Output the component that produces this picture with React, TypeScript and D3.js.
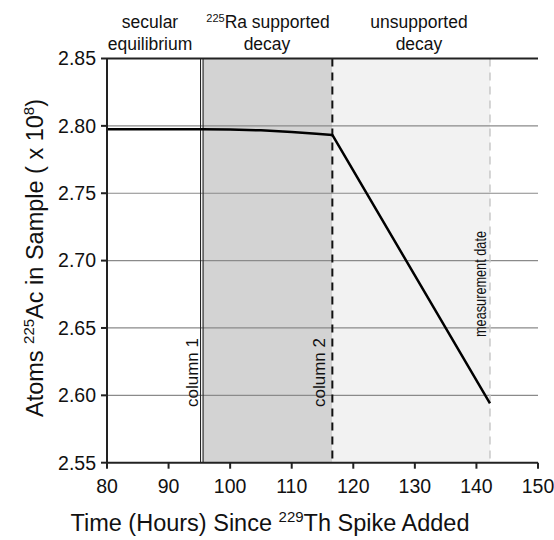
import React from "react";
import * as d3 from "d3";

const xTicks = [80, 90, 100, 110, 120, 130, 140, 150];
const yTicks = [2.55, 2.6, 2.65, 2.7, 2.75, 2.8, 2.85];
const hours = [80, 95.4, 100, 105, 110, 114, 116.6, 142.2];
const atoms = [2.7975, 2.7975, 2.7973, 2.7967, 2.7955, 2.7942, 2.7933, 2.594];
const column1 = 95.4;
const column2 = 116.6;
const measurement = 142.2;

const W = 554, H = 540;
const font = "Liberation Sans, Arial, sans-serif";

export default function App() {
  const x = d3.scaleLinear().domain([80, 150]).range([107, 538]);
  const y = d3.scaleLinear().domain([2.55, 2.85]).range([462.7, 58.5]);
  const line = d3.line<number>().x((_, i) => x(hours[i])).y((d) => y(d)).curve(d3.curveLinear);
  const top = y(2.85), bot = y(2.55);
  return (
    <svg width={W} height={H} style={{ position: "absolute", left: 0, top: 0, background: "#fff" }} fontFamily={font}>
      <rect x={x(column1)} y={top} width={x(column2) - x(column1)} height={bot - top} fill="#d3d3d3" />
      <rect x={x(column2)} y={top} width={x(measurement) - x(column2)} height={bot - top} fill="#f2f2f2" />
      {yTicks.slice(1, -1).map((t) => (
        <line key={t} x1={x(80)} x2={x(150)} y1={y(t)} y2={y(t)} stroke="#8a8a8a" strokeWidth={1.2} />
      ))}
      <line x1={x(column1) - 1.3} x2={x(column1) - 1.3} y1={top} y2={bot} stroke="#222" strokeWidth={1} />
      <line x1={x(column1) + 1.3} x2={x(column1) + 1.3} y1={top} y2={bot} stroke="#222" strokeWidth={1} />
      <line x1={x(column2)} x2={x(column2)} y1={top} y2={bot} stroke="#111" strokeWidth={2} strokeDasharray="8,6" />
      <line x1={x(measurement)} x2={x(measurement)} y1={top} y2={bot} stroke="#c8c8c8" strokeWidth={1.5} strokeDasharray="8,6" />
      <path d={line(atoms) || ""} fill="none" stroke="#000" strokeWidth={2.5} strokeLinejoin="round" />
      {/* axes */}
      <line x1={x(80)} x2={x(150)} y1={top} y2={top} stroke="#222" strokeWidth={2} />
      <line x1={x(80)} x2={x(150)} y1={bot} y2={bot} stroke="#222" strokeWidth={2} />
      <line x1={x(80)} x2={x(80)} y1={top} y2={bot} stroke="#222" strokeWidth={2} />
      {yTicks.map((t) => (
        <g key={t}>
          <line x1={x(80) - 6} x2={x(80)} y1={y(t)} y2={y(t)} stroke="#222" strokeWidth={2} />
          <text x={96} y={y(t) + 6.8} textAnchor="end" fontSize={19.5} fill="#111">{t.toFixed(2)}</text>
        </g>
      ))}
      {xTicks.map((t) => (
        <g key={t}>
          <line x1={x(t)} x2={x(t)} y1={bot} y2={bot + 6} stroke="#222" strokeWidth={2} />
          <text x={x(t)} y={492.5} textAnchor="middle" fontSize={19.5} fill="#111">{t}</text>
        </g>
      ))}
      {/* region labels */}
      <g fontSize={17.5} fill="#111" textAnchor="middle">
        <text x={150} y={28}>secular</text>
        <text x={150} y={50}>equilibrium</text>
        <text x={268} y={28}><tspan fontSize={11} dy={-6}>225</tspan><tspan dy={6}>Ra supported</tspan></text>
        <text x={267} y={50}>decay</text>
        <text x={419} y={28}>unsupported</text>
        <text x={419} y={50}>decay</text>
      </g>
      <g fontSize={17} fill="#111">
        <text transform={`translate(198,407) rotate(-90)`}>column 1</text>
        <text transform={`translate(325,407) rotate(-90)`}>column 2</text>
        <text transform={`translate(486,337) rotate(-90)`} fontSize={17} textLength={106} lengthAdjust="spacingAndGlyphs">measurement date</text>
      </g>
      <text x={270} y={531} textAnchor="middle" fontSize={23.5} fill="#111">
        Time (Hours) Since <tspan fontSize={15} dy={-9}>229</tspan><tspan dy={9}>Th Spike Added</tspan>
      </text>
      <text transform={`translate(43,258) rotate(-90)`} textAnchor="middle" fontSize={23.5} fill="#111">
        Atoms <tspan fontSize={15} dy={-9}>225</tspan><tspan dy={9}>Ac in Sample ( x 10</tspan><tspan fontSize={15} dy={-9}>8</tspan><tspan dy={9}>)</tspan>
      </text>
    </svg>
  );
}
